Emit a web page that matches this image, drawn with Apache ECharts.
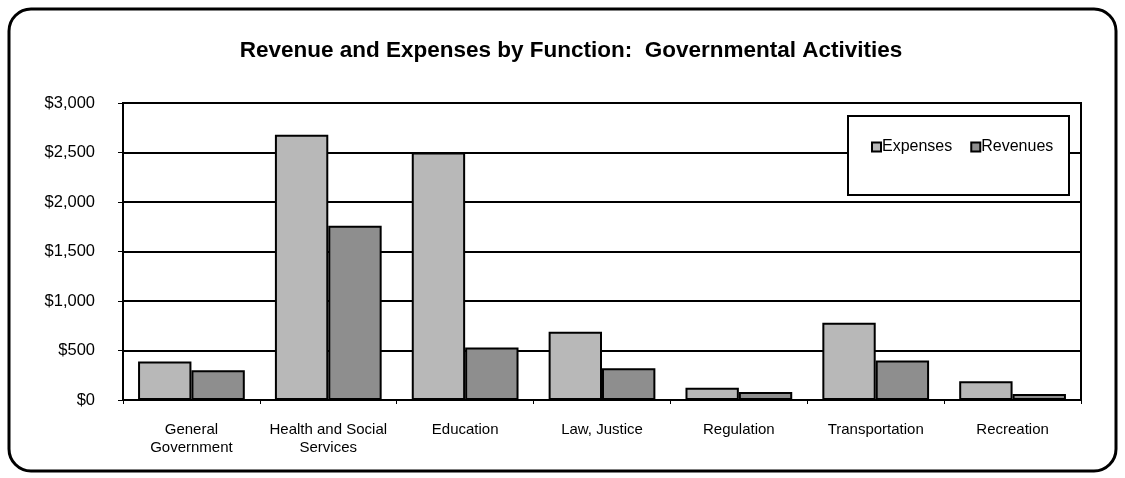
<!DOCTYPE html>
<html>
<head>
<meta charset="utf-8">
<script src="https://cdn.jsdelivr.net/npm/echarts@6/dist/echarts.min.js"></script>
<style>
html,body{margin:0;padding:0;background:#fff;}
#c{width:1125px;height:478px;}
</style>
</head>
<body>
<div id="c"></div>
<script>
const categories = ['General\nGovernment', 'Health and Social\nServices', 'Education', 'Law, Justice', 'Regulation', 'Transportation', 'Recreation'];
const expenses = [390, 2680, 2500, 690, 125, 780, 190];
const revenues = [300, 1760, 530, 320, 80, 400, 60];
const yTicks = [0, 500, 1000, 1500, 2000, 2500, 3000];

const chart = echarts.init(document.getElementById('c'), null, {renderer: 'canvas'});
const font = 'Liberation Sans, Arial, sans-serif';
chart.setOption({
  animation: false,
  backgroundColor: '#fff',
  title: {
    text: 'Revenue and Expenses by Function:  Governmental Activities',
    left: 566, top: 34, textAlign: 'center',
    textStyle: {fontFamily: font, fontSize: 22.5, fontWeight: 'bold', color: '#000'}
  },
  graphic: [
    {type: 'rect', shape: {x: 9, y: 9, width: 1107, height: 462, r: 22}, style: {fill: 'none', stroke: '#000', lineWidth: 3}, z: 100},
    {type: 'rect', shape: {x: 848, y: 116, width: 221, height: 79}, style: {fill: '#fff', stroke: '#000', lineWidth: 2}, z: 10}
  ],
  legend: {
    data: ['Expenses', 'Revenues'],
    left: 866, top: 134,
    itemWidth: 9, itemHeight: 9, itemGap: 18,
    icon: 'rect',
    z: 20,
    textStyle: {fontFamily: font, fontSize: 16, color: '#000', padding: [0, 0, 0, -4]}
  },
  grid: {left: 123, right: 44, top: 103, bottom: 78, show: true, borderColor: '#000', borderWidth: 2},
  xAxis: {
    type: 'category', data: categories,
    axisLine: {lineStyle: {color: '#000', width: 2}},
    axisTick: {show: true, length: 4, lineStyle: {color: '#000'}},
    axisLabel: {interval: 0, fontFamily: font, fontSize: 15, color: '#000', margin: 21, lineHeight: 18}
  },
  yAxis: {
    type: 'value', min: 0, max: 3000, interval: 500,
    axisLine: {show: true, lineStyle: {color: '#000', width: 2}},
    axisTick: {show: true, length: 5, lineStyle: {color: '#000'}},
    splitLine: {lineStyle: {color: '#000', width: 2}},
    axisLabel: {fontFamily: font, fontSize: 16.5, color: '#000', margin: 28,
      formatter: v => yTicks.includes(v) ? '$' + v.toLocaleString('en-US') : ''}
  },
  series: [
    {name: 'Expenses', type: 'bar', data: expenses, barGap: '0%', barCategoryGap: '22%',
     itemStyle: {color: '#b8b8b8', borderColor: '#000', borderWidth: 2}},
    {name: 'Revenues', type: 'bar', data: revenues,
     itemStyle: {color: '#8e8e8e', borderColor: '#000', borderWidth: 2}}
  ]
});
</script>
</body>
</html>
